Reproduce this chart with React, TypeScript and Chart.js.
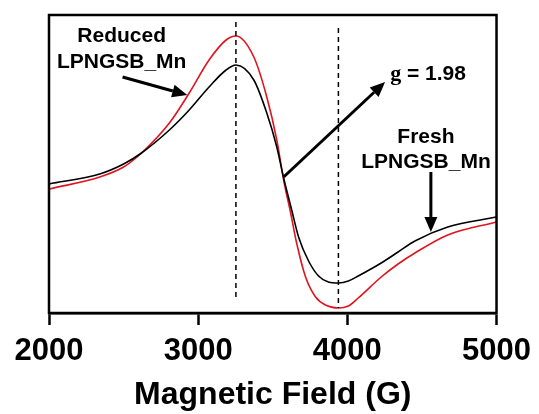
import React, { useEffect, useRef } from "react";
import { Chart, registerables } from "chart.js";

Chart.register(...registerables);

// EPR spectra: magnetic field (G) vs. signal intensity (a.u.)
const freshField = [2000, 2340, 2500, 2620, 2807, 2940, 3073, 3187, 3253, 3373, 3460, 3527, 3573, 3627, 3673, 3740, 3807, 3873, 3940, 4007, 4073, 4227, 4340, 4453, 4673, 5000];
const freshSignal = [129, 139, 149, 160, 183, 203, 226, 243, 248, 233, 200, 166, 135, 103, 76, 52, 37, 31, 30, 32, 37, 50, 61, 72, 86, 96];

const reducedField = [2000, 2340, 2500, 2620, 2807, 2940, 3073, 3187, 3253, 3373, 3460, 3527, 3573, 3620, 3660, 3720, 3787, 3853, 3940, 4007, 4073, 4227, 4340, 4453, 4673, 5000];
const reducedSignal = [124, 136, 146, 160, 190, 220, 253, 273, 277, 256, 216, 173, 133, 100, 70, 36, 16, 8, 5, 7, 15, 36, 49, 60, 78, 91];

const fieldTicks = [2000, 3000, 4000, 5000];

// Reference field positions (peak and trough) marked with dashed lines
const markerLines = [
  { field: 3253, from: 291, to: 13 },
  { field: 3940, from: 285, to: 5 },
];

// Annotation arrows in data coordinates [field, intensity]
const arrows = [
  { from: [2493, 236], to: [2927, 218] },
  { from: [3573, 136], to: [4253, 231] },
  { from: [4560, 141], to: [4560, 81] },
];

const labels = [
  { text: "Reduced", at: [2487, 277] },
  { text: "LPNGSB_Mn", at: [2487, 251] },
  { text: "Fresh", at: [4527, 176] },
  { text: "LPNGSB_Mn", at: [4527, 151] },
];

const gLabel = { symbol: "g", value: " = 1.98", at: [4287, 239] };

const SANS = "'Liberation Sans', Arial, sans-serif";
const SERIF = "'Liberation Serif', 'Times New Roman', serif";

const annotationPlugin = {
  id: "eprAnnotations",
  afterDatasetsDraw(chart: any) {
    const { ctx, scales, chartArea } = chart;
    const xs = scales.x;
    const ys = scales.y;
    const px = (v: number) => xs.getPixelForValue(v);
    const py = (v: number) => ys.getPixelForValue(v);

    ctx.save();
    // dashed marker lines
    ctx.strokeStyle = "#000";
    ctx.lineWidth = 1.5;
    ctx.setLineDash([5, 4]);
    for (const m of markerLines) {
      ctx.beginPath();
      ctx.moveTo(px(m.field), py(m.from));
      ctx.lineTo(px(m.field), py(m.to));
      ctx.stroke();
    }
    ctx.setLineDash([]);

    // arrows
    ctx.fillStyle = "#000";
    ctx.lineWidth = 3;
    for (const a of arrows) {
      const x1 = px(a.from[0]);
      const y1 = py(a.from[1]);
      const x2 = px(a.to[0]);
      const y2 = py(a.to[1]);
      const ang = Math.atan2(y2 - y1, x2 - x1);
      const headLen = 15;
      const headHalf = 6.5;
      const bx = x2 - headLen * Math.cos(ang);
      const by = y2 - headLen * Math.sin(ang);
      ctx.beginPath();
      ctx.moveTo(x1, y1);
      ctx.lineTo(bx, by);
      ctx.stroke();
      ctx.beginPath();
      ctx.moveTo(x2, y2);
      ctx.lineTo(bx + headHalf * Math.sin(ang), by - headHalf * Math.cos(ang));
      ctx.lineTo(bx - headHalf * Math.sin(ang), by + headHalf * Math.cos(ang));
      ctx.closePath();
      ctx.fill();
    }

    // text labels
    ctx.textBaseline = "middle";
    ctx.textAlign = "center";
    ctx.font = `bold 21px ${SANS}`;
    for (const l of labels) {
      ctx.fillText(l.text, px(l.at[0]), py(l.at[1]));
    }

    ctx.textAlign = "left";
    const gx = px(gLabel.at[0]);
    const gy = py(gLabel.at[1]);
    ctx.font = `bold 22px ${SERIF}`;
    ctx.fillText(gLabel.symbol, gx, gy);
    const gw = ctx.measureText(gLabel.symbol).width;
    ctx.font = `bold 21px ${SANS}`;
    ctx.fillText(gLabel.value, gx + gw, gy);

    // plot frame
    ctx.lineWidth = 2.5;
    ctx.strokeStyle = "#000";
    ctx.strokeRect(chartArea.left, chartArea.top, chartArea.right - chartArea.left, chartArea.bottom - chartArea.top);
    ctx.restore();
  },
};

export default function App() {
  const canvasRef = useRef<HTMLCanvasElement | null>(null);

  useEffect(() => {
    const canvas = canvasRef.current;
    if (!canvas) return;
    const chart = new Chart(canvas, {
      type: "line",
      data: {
        datasets: [
          {
            label: "Fresh LPNGSB_Mn",
            data: freshField.map((f, i) => ({ x: f, y: freshSignal[i] })),
            borderColor: "#000000",
            borderWidth: 1.6,
            pointRadius: 0,
            cubicInterpolationMode: "monotone",
            fill: false,
          },
          {
            label: "Reduced LPNGSB_Mn",
            data: reducedField.map((f, i) => ({ x: f, y: reducedSignal[i] })),
            borderColor: "#e0141e",
            borderWidth: 1.6,
            pointRadius: 0,
            cubicInterpolationMode: "monotone",
            fill: false,
          },
        ],
      },
      options: {
        animation: false,
        responsive: false,
        events: [],
        layout: { padding: { left: 49, right: 41, top: 15, bottom: 0 } },
        plugins: {
          legend: { display: false },
          tooltip: { enabled: false },
        },
        scales: {
          x: {
            type: "linear",
            min: 2000,
            max: 5000,
            afterBuildTicks: (scale: any) => {
              scale.ticks = fieldTicks.map((v) => ({ value: v }));
            },
            afterFit: (scale: any) => {
              scale.height = 101;
            },
            grid: {
              drawOnChartArea: false,
              drawTicks: true,
              tickLength: 12,
              tickWidth: 2.5,
              tickColor: "#000",
            },
            border: { display: true, color: "#000", width: 2.5 },
            ticks: {
              color: "#000",
              padding: 8,
              font: { family: SANS, size: 31, weight: "bold" },
              callback: (v: any) => String(v),
            },
            title: {
              display: true,
              text: "Magnetic Field (G)",
              color: "#000",
              font: { family: SANS, size: 32, weight: "bold" },
              padding: { top: 0, bottom: 0 },
            },
          },
          y: {
            display: false,
            min: 0,
            max: 298,
          },
        },
      },
      plugins: [annotationPlugin],
    });
    return () => chart.destroy();
  }, []);

  return (
    <div style={{ position: "absolute", left: 0, top: 0, width: 539, height: 414, background: "#fff" }}>
      <canvas ref={canvasRef} width={539} height={414} />
    </div>
  );
}
